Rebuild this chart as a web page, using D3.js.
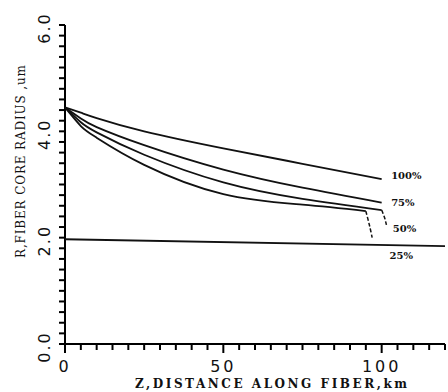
<!DOCTYPE html>
<html>
<head>
<meta charset="utf-8">
<script src="https://cdn.jsdelivr.net/npm/d3@7"></script>
<style>
  html, body { margin: 0; padding: 0; background: #fff; }
</style>
</head>
<body>
<div id="chart"></div>
<script>
// distances along fiber (km) and core radius (um) for each curve
const distanceKm = [0, 5, 10, 25, 50, 75, 100];
const radius100 = [4.45, 4.35, 4.25, 4.00, 3.68, 3.39, 3.10];
const radius75 = [4.45, 4.24, 4.08, 3.74, 3.28, 2.94, 2.66];
const radius50 = [4.45, 4.17, 3.98, 3.56, 3.04, 2.73, 2.52];
const distance25 = [0, 5, 10, 25, 50, 75, 95];
const radius25 = [4.45, 4.10, 3.88, 3.37, 2.82, 2.62, 2.50];

// dashed hooks at the ends of the 50% and 25% curves
const tail50Km = [100, 101, 101.5];
const tail50R = [2.52, 2.36, 2.24];
const tail25Km = [95, 96.2, 97];
const tail25R = [2.50, 2.22, 2.0];

// nearly flat reference line
const refKm = [0, 120];
const refR = [1.97, 1.84];

const curveLabels = ["100%", "75%", "50%", "25%"];
const xTickLabels = [0, 50, 100];
const yTickLabels = [0, 2, 4, 6];

const W = 448, H = 392;
const svg = d3.select("#chart").append("svg")
  .attr("width", W).attr("height", H);

const x = d3.scaleLinear().domain([0, 120]).range([65, 445]);
const y = d3.scaleLinear().domain([0, 6]).range([344, 25]);

// minor ticks every 5 km / 0.2 um, pointing outward
const ticks = svg.append("g").attr("stroke", "#000").attr("stroke-width", 2);
ticks.selectAll("line.xt").data(d3.range(0, 121, 5)).join("line")
  .attr("class", "xt")
  .attr("x1", d => x(d)).attr("x2", d => x(d))
  .attr("y1", y(0)).attr("y2", d => y(0) + (d % 50 === 0 ? 9 : 6));
ticks.selectAll("line.yt").data(d3.range(0, 31).map(i => i * 0.2)).join("line")
  .attr("class", "yt")
  .attr("x1", x(0) - 6).attr("x2", x(0))
  .attr("y1", d => y(d)).attr("y2", d => y(d));

// axis lines
ticks.append("line")
  .attr("x1", x(0)).attr("x2", x(120)).attr("y1", y(0)).attr("y2", y(0));
ticks.append("line")
  .attr("x1", x(0)).attr("x2", x(0)).attr("y1", y(0)).attr("y2", y(6));

// tick labels
svg.selectAll("text.xlab").data(xTickLabels).join("text")
  .attr("class", "xlab")
  .attr("x", d => x(d)).attr("y", 372)
  .attr("text-anchor", "middle")
  .attr("fill", "#111")
  .style("font-family", "DejaVu Sans").style("font-size", "16px")
  .style("letter-spacing", "3px")
  .text(d => d);

svg.selectAll("text.ylab").data(yTickLabels).join("text")
  .attr("class", "ylab")
  .attr("transform", d => `translate(50,${y(d) + 3}) rotate(-90)`)
  .attr("text-anchor", "middle")
  .attr("fill", "#111")
  .style("font-family", "DejaVu Sans").style("font-size", "16px")
  .style("letter-spacing", "2px")
  .text(d => d.toFixed(1));

// axis titles
svg.append("text")
  .attr("x", 135).attr("y", 388)
  .attr("textLength", 272)
  .attr("fill", "#111")
  .style("font-family", "DejaVu Serif").style("font-size", "12px")
  .style("font-weight", "bold")
  .text("Z,DISTANCE ALONG FIBER,km");

svg.append("text")
  .attr("transform", "translate(25,258) rotate(-90)")
  .attr("textLength", 193)
  .attr("fill", "#111")
  .style("font-family", "DejaVu Serif").style("font-size", "12px")
  .text("R,FIBER CORE RADIUS ,um");

// curves
const line = d3.line()
  .curve(d3.curveNatural)
  .x(d => x(d[0])).y(d => y(d[1]));

const series = [
  d3.zip(distanceKm, radius100),
  d3.zip(distanceKm, radius75),
  d3.zip(distanceKm, radius50),
  d3.zip(distance25, radius25)
];
series.forEach(s => {
  svg.append("path").datum(s)
    .attr("fill", "none").attr("stroke", "#111").attr("stroke-width", 1.8)
    .attr("d", line);
});

const hookLine = d3.line().curve(d3.curveCatmullRom)
  .x(d => x(d[0])).y(d => y(d[1]));
[d3.zip(tail50Km, tail50R), d3.zip(tail25Km, tail25R)].forEach(s => {
  svg.append("path").datum(s)
    .attr("fill", "none").attr("stroke", "#111").attr("stroke-width", 1.5)
    .attr("stroke-dasharray", "4,2")
    .attr("d", hookLine);
});

svg.append("path").datum(d3.zip(refKm, refR))
  .attr("fill", "none").attr("stroke", "#111").attr("stroke-width", 1.8)
  .attr("d", d3.line().x(d => x(d[0])).y(d => y(d[1])));

// curve labels
const labelPos = [[103, 3.1], [103, 2.6], [103.5, 2.1], [102.5, 1.6]];
svg.selectAll("text.clab").data(curveLabels).join("text")
  .attr("class", "clab")
  .attr("x", (d, i) => x(labelPos[i][0]))
  .attr("y", (d, i) => y(labelPos[i][1]))
  .attr("fill", "#111")
  .style("font-family", "DejaVu Serif").style("font-size", "10px")
  .style("font-weight", "bold")
  .text(d => d);
</script>
</body>
</html>
